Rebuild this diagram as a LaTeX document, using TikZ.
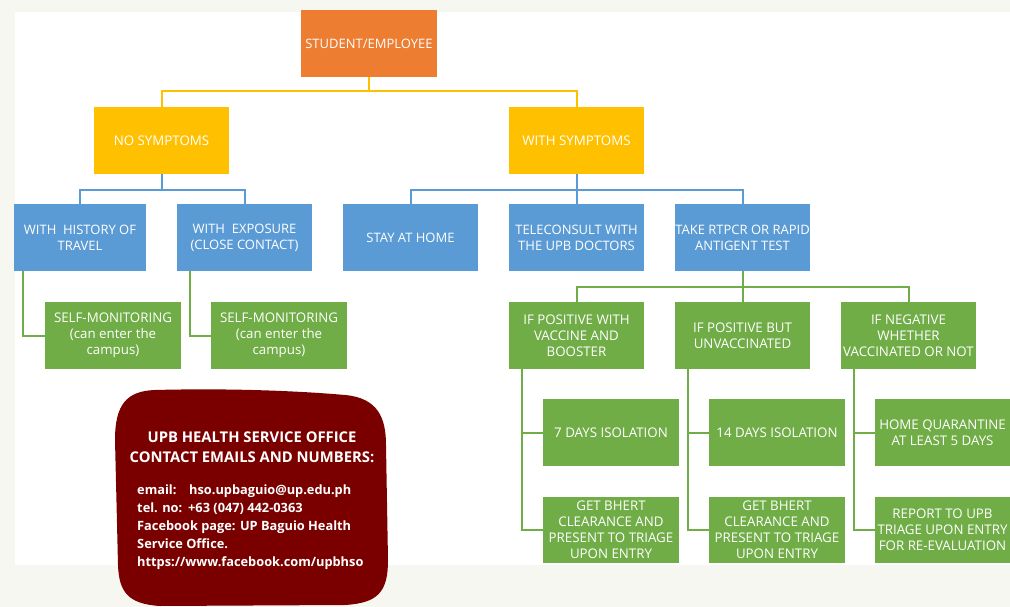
\documentclass[tikz,border=0pt]{standalone}
\usepackage{fontspec}
\newfontfamily\osans{Open Sans}
\newfontfamily\osansb{Open Sans Bold}
\definecolor{cOrange}{HTML}{ED7D31}
\definecolor{cYellow}{HTML}{FFC000}
\definecolor{cBlue}{HTML}{5B9BD5}
\definecolor{cGreen}{HTML}{70AD47}
\definecolor{cMaroon}{HTML}{7A0000}
\definecolor{cBack}{HTML}{F7F7F2}
\tikzset{
  box/.style={rectangle, minimum width=135pt, minimum height=67pt, inner sep=0pt,
    text=white, align=center, font=\osans\fontsize{13.3}{16}\selectfont},
  obox/.style={box, fill=cOrange, font=\osans\fontsize{13}{16}\selectfont},
  ybox/.style={box, fill=cYellow},
  bbox/.style={box, fill=cBlue, font=\osans\fontsize{13}{16}\selectfont},
  gbox/.style={box, fill=cGreen},
  yline/.style={draw=cYellow, line width=2pt},
  bline/.style={draw=cBlue, line width=2pt},
  gline/.style={draw=cGreen, line width=2pt},
}
\begin{document}
\begin{tikzpicture}[x=1pt,y=-1pt]
\useasboundingbox (0,0) rectangle (1010,607);
\fill[cBack] (0,0) rectangle (1010,607);
\fill[white] (15,12) rectangle (1010,565);

% nodes
\node[obox, minimum width=136pt] (root) at (369,43.5) {STUDENT/EMPLOYEE};
\node[ybox] (nosym) at (161.5,140.5) {NO SYMPTOMS};
\node[ybox] (withsym) at (576.5,140.5) {WITH SYMPTOMS};
\node[bbox, minimum width=132pt] (travel) at (80,237.5) {WITH\ \ HISTORY OF\\TRAVEL};
\node[bbox] (exposure) at (244.5,237.5) {WITH\ \ EXPOSURE\\(CLOSE CONTACT)};
\node[bbox] (stay) at (410.5,237.5) {STAY AT HOME};
\node[bbox] (tele) at (576.5,237.5) {TELECONSULT WITH\\THE UPB DOCTORS};
\node[bbox] (rtpcr) at (742.5,237.5) {TAKE RTPCR OR RAPID\\ANTIGENT TEST};
\node[gbox, minimum width=136pt] (self1) at (113,335.5) {SELF-MONITORING\\(can enter the\\campus)};
\node[gbox, minimum width=136pt] (self2) at (279,335.5) {SELF-MONITORING\\(can enter the\\campus)};
\node[gbox] (pos1) at (576.5,335.5) {IF POSITIVE WITH\\VACCINE AND\\BOOSTER};
\node[gbox] (pos2) at (742.5,335.5) {IF POSITIVE BUT\\UNVACCINATED};
\node[gbox] (neg) at (908.5,335.5) {IF NEGATIVE\\WHETHER\\VACCINATED OR NOT};
\node[gbox, minimum width=136pt] (iso7) at (611,432.5) {7 DAYS ISOLATION};
\node[gbox, minimum width=136pt] (iso14) at (777,432.5) {14 DAYS ISOLATION};
\node[gbox] (homeq) at (942.5,432.5) {HOME QUARANTINE\\AT LEAST 5 DAYS};
\node[gbox, minimum width=136pt, minimum height=66pt] (bhert1) at (611,530) {GET BHERT\\CLEARANCE AND\\PRESENT TO TRIAGE\\UPON ENTRY};
\node[gbox, minimum width=136pt, minimum height=66pt] (bhert2) at (777,530) {GET BHERT\\CLEARANCE AND\\PRESENT TO TRIAGE\\UPON ENTRY};
\node[gbox, minimum height=66pt] (report) at (942.5,530) {REPORT TO UPB\\TRIAGE UPON ENTRY\\FOR RE-EVALUATION};

% connectors
\draw[yline] (root.south) -- ++(0,14) coordinate (ybus);
\draw[yline] (nosym.north) |- (ybus) -| (withsym.north);
\draw[bline] (nosym.south) -- ++(0,16) coordinate (bbus1);
\draw[bline] (travel.north) |- (bbus1) -| (exposure.north);
\draw[bline] (withsym.south) -- (tele.north);
\draw[bline] (withsym.south) -- ++(0,16) coordinate (bbus2);
\draw[bline] (stay.north) |- (bbus2) -| (rtpcr.north);
\draw[gline] (rtpcr.south) -- ++(0,16) coordinate (gbus);
\draw[gline] (rtpcr.south) -- (pos2.north);
\draw[gline] (pos1.north) |- (gbus) -| (neg.north);
\draw[gline] ([xshift=9pt]travel.south west) |- (self1.west);
\draw[gline] ([xshift=13pt]exposure.south west) |- (self2.west);
\draw[gline] ([xshift=13pt]pos1.south west) |- (iso7.west);
\draw[gline] ([xshift=13pt]pos1.south west) |- (bhert1.west);
\draw[gline] ([xshift=13pt]pos2.south west) |- (iso14.west);
\draw[gline] ([xshift=13pt]pos2.south west) |- (bhert2.west);
\draw[gline] ([xshift=13pt]neg.south west) |- (homeq.west);
\draw[gline] ([xshift=13pt]neg.south west) |- (report.west);

% contact blob
\fill[cMaroon] (155,390) .. controls (230,388) and (300,391) .. (345,395)
  .. controls (378,398) and (386,418) .. (386,445)
  -- (388,560) .. controls (388,592) and (378,603) .. (345,605)
  -- (160,606) .. controls (128,604) and (119,592) .. (118,565)
  -- (115,440) .. controls (115,404) and (127,391) .. (155,390) -- cycle;
\node[text=white, font=\osansb\fontsize{14.8}{20}\selectfont, align=center, inner sep=0pt] (title) at (252,447) {UPB HEALTH SERVICE OFFICE\\CONTACT EMAILS AND NUMBERS:};
\node[text=white, font=\osansb\fontsize{12.8}{18}\selectfont, align=left, inner sep=0pt, anchor=north west] (info) at (137,485) {\makebox[52pt][l]{email:}hso.upbaguio@up.edu.ph\\\makebox[51pt][l]{tel. no:}+63 (047) 442-0363\\Facebook page: UP Baguio Health\\Service Office.\\https://www.facebook.com/upbhso};
\end{tikzpicture}
\end{document}
